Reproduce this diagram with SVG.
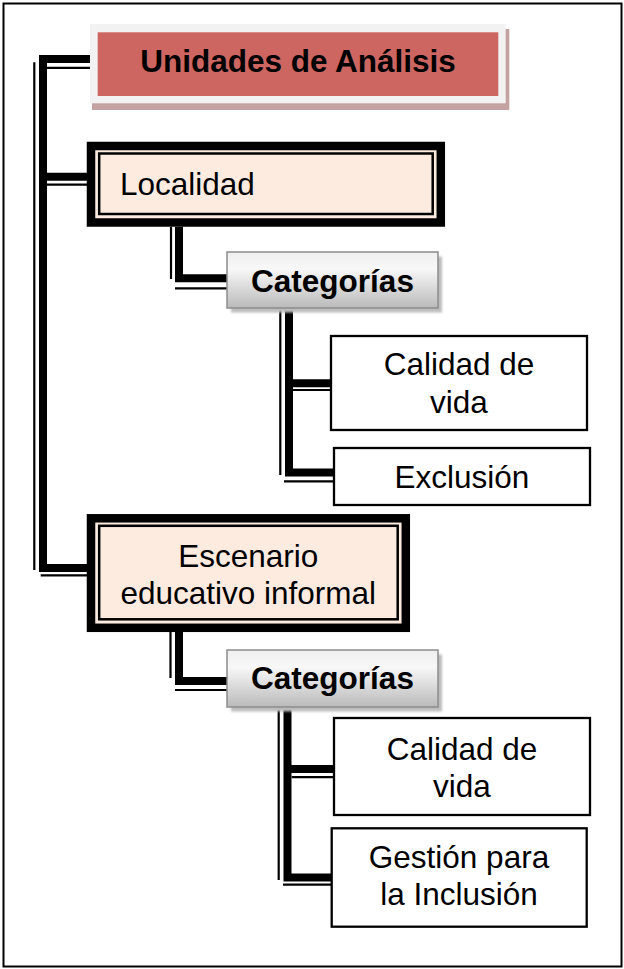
<svg xmlns="http://www.w3.org/2000/svg" width="624" height="969" viewBox="0 0 624 969">
  <style>
    text { font-family: "Liberation Sans", Arial, sans-serif; font-size: 31.5px; fill: #000; }
    .b { font-weight: bold; }
    .c { text-anchor: middle; }
    .thick { stroke: #000; stroke-width: 8; fill: none; stroke-linejoin: miter; }
    .thin { stroke: #000; stroke-width: 2.2; fill: none; }
    .leaf { fill: #fff; stroke: #000; stroke-width: 2.3; }
    .peach { fill: #fdebe0; stroke: #000; stroke-width: 8.5; }
    .inner { fill: none; stroke: #000; stroke-width: 2.5; }
    .cat { fill: url(#catGrad); stroke: #8c8c8c; stroke-width: 1.5; }
    .catShadow { fill: #bdbdbd; filter: url(#soft); }
  </style>
  <defs>
    <linearGradient id="catGrad" x1="0" y1="0" x2="0" y2="1">
      <stop offset="0" stop-color="#efefef"/>
      <stop offset="0.3" stop-color="#f8f8f8"/>
      <stop offset="1" stop-color="#bababa"/>
    </linearGradient>
    <filter id="soft" x="-10%" y="-20%" width="120%" height="140%">
      <feGaussianBlur stdDeviation="1.2"/>
    </filter>
  </defs>
  <rect x="0" y="0" width="624" height="969" fill="#fff"/>
  <rect id="frame" x="3.5" y="3.5" width="618" height="963" fill="none" stroke="#000" stroke-width="2"/>

  <g id="connectors">
    <!-- root spine -->
    <path class="thick" d="M90 59 H43 V568 H87"/>
    <path class="thick" d="M43 176.7 H87"/>
    <path class="thin" d="M46.7 67.8 H90 M34.3 62.3 V570 M40.7 575.3 H87 M47 184.7 H87"/>
    <!-- Localidad to Categorias -->
    <path class="thick" d="M179 226.7 V278.3 H227"/>
    <path class="thin" d="M171 226.7 V279 M175 288.3 H227"/>
    <!-- Categorias 1 to leaves -->
    <path class="thick" d="M289 308 V472.5 H334"/>
    <path class="thick" d="M289 383.3 H331"/>
    <path class="thin" d="M280.3 308 V475 M293 390 H331 M284 481.3 H334"/>
    <!-- Escenario to Categorias -->
    <path class="thick" d="M179 632 V681 H227"/>
    <path class="thin" d="M170.5 632 V678 M175 690 H227"/>
    <!-- Categorias 2 to leaves -->
    <path class="thick" d="M287.5 707 V877.5 H331.7"/>
    <path class="thick" d="M287.5 769 H334"/>
    <path class="thin" d="M278.7 707 V880 M291.7 777.2 H334 M283 884.7 H331.7"/>
  </g>

  <g id="unidades">
    <rect x="92" y="29" width="417.3" height="81" fill="#c4a2a1"/>
    <rect x="90" y="24" width="415.7" height="79.3" fill="#f2f2f2"/>
    <rect x="97.7" y="32.3" width="400.6" height="63.7" fill="#cd6660"/>
    <text class="b c" x="298" y="71.7">Unidades de Análisis</text>
  </g>

  <g id="localidad">
    <rect class="peach" x="91" y="146" width="349.8" height="76.5"/>
    <rect class="inner" x="99.2" y="153.5" width="333.5" height="60.5"/>
    <text x="120" y="195">Localidad</text>
  </g>

  <g id="categorias1">
    <rect class="catShadow" x="231" y="256.5" width="211" height="56"/>
    <rect class="cat" x="227" y="252" width="211" height="56"/>
    <text class="b c" x="332.5" y="291.5">Categorías</text>
  </g>

  <g id="calidad1">
    <rect class="leaf" x="331" y="336" width="256" height="94"/>
    <text class="c" x="459" y="375">Calidad de</text>
    <text class="c" x="459" y="413">vida</text>
  </g>

  <g id="exclusion">
    <rect class="leaf" x="334" y="448" width="256" height="57"/>
    <text class="c" x="462" y="488">Exclusión</text>
  </g>

  <g id="escenario">
    <rect class="peach" x="91" y="518.3" width="314.8" height="109.5"/>
    <rect class="inner" x="99.2" y="525.8" width="298.5" height="93.5"/>
    <text class="c" x="248.3" y="567">Escenario</text>
    <text class="c" x="248.3" y="604">educativo informal</text>
  </g>

  <g id="categorias2">
    <rect class="catShadow" x="231" y="654.5" width="211" height="57"/>
    <rect class="cat" x="227" y="650" width="211" height="57"/>
    <text class="b c" x="332.5" y="688.5">Categorías</text>
  </g>

  <g id="calidad2">
    <rect class="leaf" x="334" y="718" width="256" height="97"/>
    <text class="c" x="462" y="760">Calidad de</text>
    <text class="c" x="462" y="797">vida</text>
  </g>

  <g id="gestion">
    <rect class="leaf" x="331.7" y="828.3" width="255" height="98.4"/>
    <text class="c" x="459" y="868">Gestión para</text>
    <text class="c" x="459" y="905">la Inclusión</text>
  </g>
</svg>
